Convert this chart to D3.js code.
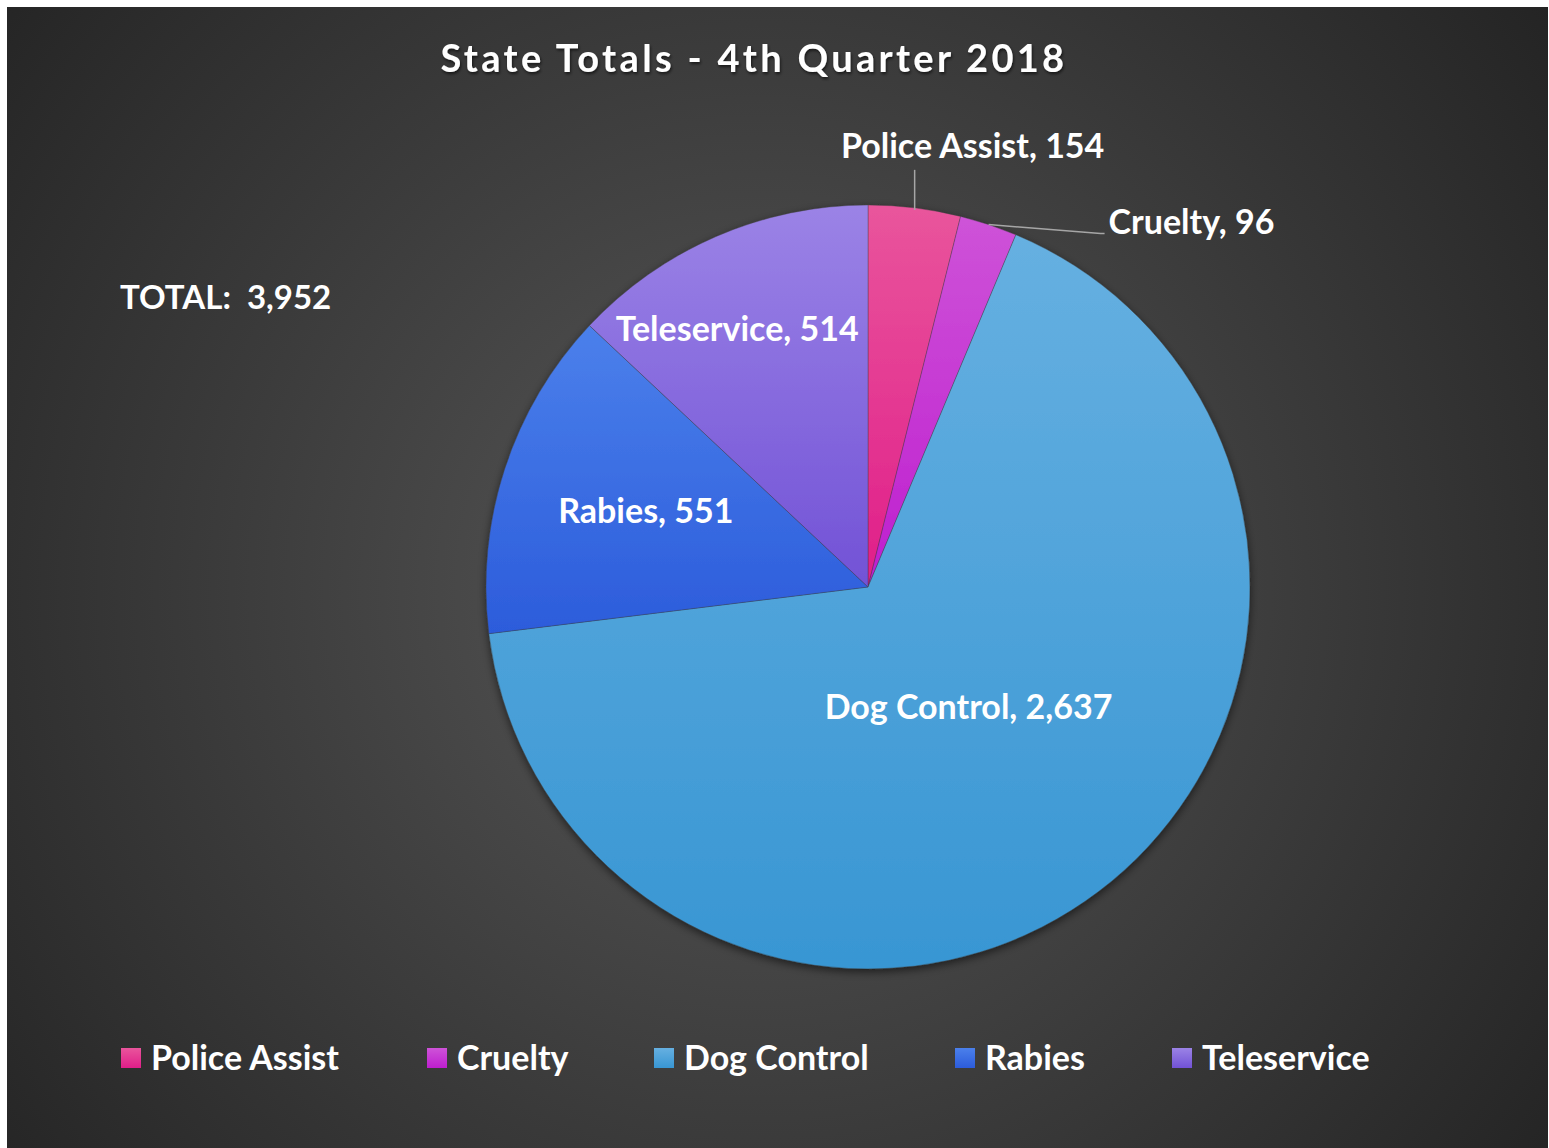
<!DOCTYPE html>
<html><head><meta charset="utf-8">
<script src="https://cdn.jsdelivr.net/npm/d3@7"></script>
<style>html,body{margin:0;padding:0;background:#fff;overflow:hidden}</style>
</head><body>
<svg id="chart" width="1549" height="1148"></svg>
<script>
const title = "State Totals - 4th Quarter 2018";
const categories = ["Police Assist", "Cruelty", "Dog Control", "Rabies", "Teleservice"];
const values = [154, 96, 2637, 551, 514];
const colorsTop = ["#E9559C", "#CE53D8", "#66B0E1", "#4B80EB", "#9B83E6"];
const colorsBottom = ["#E01E89", "#BE1ECF", "#3896D3", "#2C5CDB", "#7252D6"];
const totalLabel = "TOTAL:  " + d3.format(",")(d3.sum(values));

const W = 1549, H = 1148;
const font = "Lato, 'Open Sans', sans-serif";
const svg = d3.select("#chart");
const defs = svg.append("defs");

// background
const bg = defs.append("radialGradient").attr("id","bg")
  .attr("gradientUnits","userSpaceOnUse").attr("cx",760).attr("cy",590).attr("r",1000);
bg.append("stop").attr("offset","0").attr("stop-color","#585858");
bg.append("stop").attr("offset","1").attr("stop-color","#232323");
svg.append("rect").attr("x",7).attr("y",7).attr("width",W-8).attr("height",H-7).attr("fill","url(#bg)");

// shadows
const sh = defs.append("filter").attr("id","pieShadow").attr("x","-10%").attr("y","-10%").attr("width","120%").attr("height","120%");
sh.append("feDropShadow").attr("dx",0).attr("dy",3).attr("stdDeviation",4).attr("flood-color","#000").attr("flood-opacity",0.55);
const tsh = defs.append("filter").attr("id","textShadow").attr("x","-5%").attr("y","-20%").attr("width","110%").attr("height","150%");
tsh.append("feDropShadow").attr("dx",1).attr("dy",2).attr("stdDeviation",1.5).attr("flood-color","#000").attr("flood-opacity",0.6);

categories.forEach((c,i)=>{
  const g = defs.append("linearGradient").attr("id","g"+i).attr("x1",0).attr("y1",0).attr("x2",0).attr("y2",1);
  g.append("stop").attr("offset","0").attr("stop-color",colorsTop[i]);
  g.append("stop").attr("offset","1").attr("stop-color",colorsBottom[i]);
});

// title
svg.append("text").attr("x",754).attr("y",72).attr("text-anchor","middle")
  .attr("font-family",font).attr("font-weight","bold").attr("font-size",38)
  .attr("letter-spacing",3.3).attr("fill","#fff").attr("filter","url(#textShadow)").text(title);

// pie
const cx = 868, cy = 587, R = 382;
const pie = d3.pie().sort(null).value(d=>d.v);
const data = pie(categories.map((c,i)=>({c, v: values[i], i})));
const arc = d3.arc().innerRadius(0).outerRadius(R);
const pg = svg.append("g").attr("transform",`translate(${cx},${cy})`);
pg.append("g").attr("filter","url(#pieShadow)").selectAll("path").data(data).join("path")
  .attr("d",arc).attr("fill",d=>`url(#g${d.data.i})`)
  .attr("stroke","rgba(60,60,60,0.35)").attr("stroke-width",1);

// labels
const fmt = d3.format(",");
const labelFont = 34;
const inside = {2: {r:0.41, dx:6, dy:-5}, 3: {r:0.62, dx:3, dy:-2}, 4: {r:0.75, dx:-17, dy:5}};
data.forEach(d=>{
  const i = d.data.i;
  const txt = d.data.c + ", " + fmt(d.data.v);
  const p = inside[i];
  if (p) {
    const a = d3.arc().innerRadius(R*p.r).outerRadius(R*p.r);
    const [x,y] = a.centroid(d);
    pg.append("text").attr("x",x+p.dx).attr("y",y+p.dy).attr("dy","0.35em").attr("text-anchor","middle")
      .attr("font-family",font).attr("font-weight","bold").attr("font-size",labelFont)
      .attr("fill","#fff").text(txt);
  }
});
// outside labels with leader lines
const pa = data[0], cr = data[1];
const paAng = (pa.startAngle + pa.endAngle)/2;
const paEdge = [R*Math.sin(paAng), -R*Math.cos(paAng)];
pg.append("line").attr("x1",paEdge[0]).attr("y1",paEdge[1]+2).attr("x2",paEdge[0]).attr("y2",paEdge[1]-38)
  .attr("stroke","#a6a6a6").attr("stroke-width",1.5);
pg.append("text").attr("x",paEdge[0]+58).attr("y",paEdge[1]-50).attr("text-anchor","middle")
  .attr("font-family",font).attr("font-weight","bold").attr("font-size",labelFont)
  .attr("fill","#fff").text(pa.data.c + ", " + fmt(pa.data.v));
const crAng = (cr.startAngle + cr.endAngle)/2;
const crEdge = [R*Math.sin(crAng), -R*Math.cos(crAng)];
pg.append("polyline").attr("points",`${crEdge[0]},${crEdge[1]} ${crEdge[0]+112},${crEdge[1]+9} ${crEdge[0]+116},${crEdge[1]+9}`)
  .attr("fill","none").attr("stroke","#a6a6a6").attr("stroke-width",1.5);
pg.append("text").attr("x",crEdge[0]+120).attr("y",crEdge[1]-2).attr("dy","0.35em")
  .attr("font-family",font).attr("font-weight","bold").attr("font-size",labelFont)
  .attr("fill","#fff").text(cr.data.c + ", " + fmt(cr.data.v));

// total
svg.append("text").attr("x",120).attr("y",309).attr("font-family",font).attr("font-weight","bold")
  .attr("font-size",33).attr("fill","#fff").attr("xml:space","preserve").style("white-space","pre").text(totalLabel);

// legend
const legX = [121, 427, 654, 955, 1172];
const lg = svg.append("g");
categories.forEach((c,i)=>{
  lg.append("rect").attr("x",legX[i]).attr("y",1048).attr("width",20).attr("height",20).attr("fill",`url(#g${i})`);
  lg.append("text").attr("x",legX[i]+30).attr("y",1058).attr("dy","0.36em")
    .attr("font-family",font).attr("font-weight","bold").attr("font-size",34).attr("fill","#fff").text(c);
});
</script>
</body></html>
